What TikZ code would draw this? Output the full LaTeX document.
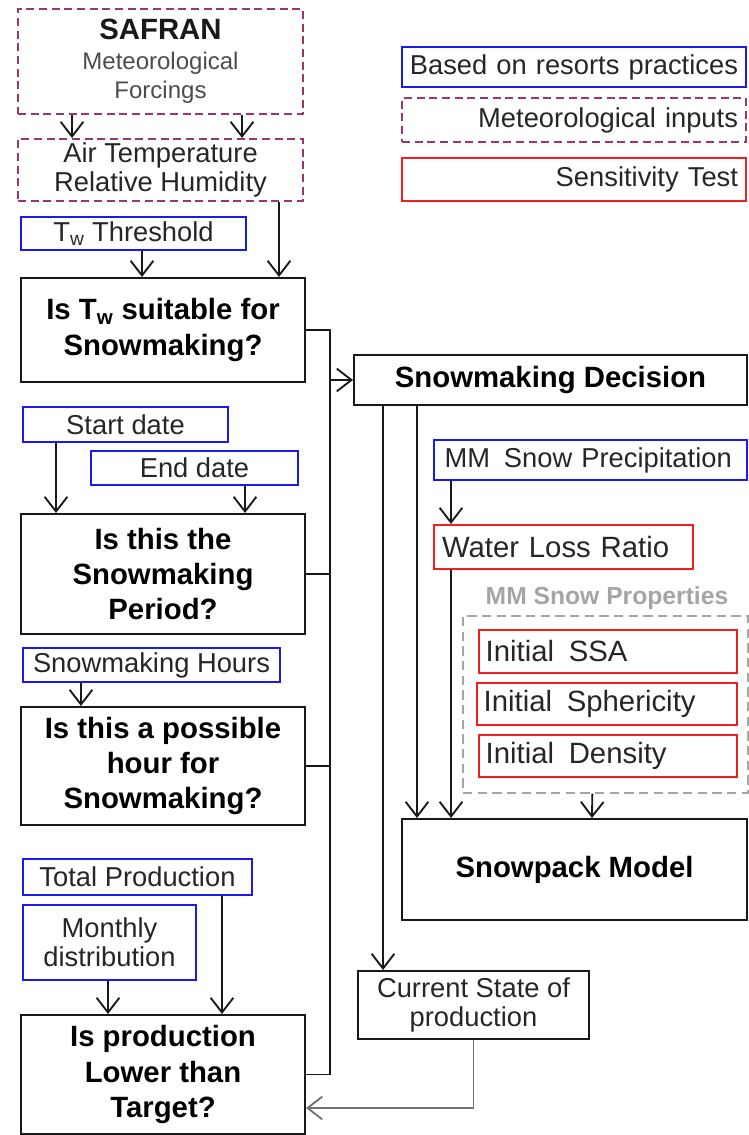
\documentclass[tikz,border=0pt]{standalone}
\usepackage{fontspec}
\setmainfont{Liberation Sans}
\usepackage{tikz}
\usetikzlibrary{arrows.meta, positioning, calc}
\definecolor{resortblue}{RGB}{25, 25, 245}
\definecolor{meteopurple}{RGB}{150, 55, 110}
\definecolor{sensred}{RGB}{240, 30, 30}
\definecolor{groupgray}{RGB}{165, 165, 165}
\newcommand{\txtnorm}{\fontsize{20.5}{23}\selectfont}
\newcommand{\txtbig}{\fontsize{22}{25}\selectfont}
\newcommand{\txtbold}{\fontsize{22}{26.5}\selectfont\bfseries}

\begin{document}
\begin{tikzpicture}[x=0.75pt, y=-0.75pt,
    basebox/.style={draw, rectangle, line width=1.5pt, inner sep=0pt, text=black!85, font=\txtnorm, align=center},
    practice/.style={basebox, draw=resortblue},
    meteo/.style={basebox, draw=meteopurple, dash pattern=on 6pt off 3.5pt},
    sensbox/.style={basebox, draw=sensred},
    question/.style={basebox, draw=black!90, text=black, font=\txtbold},
    conn/.style={line width=1.4pt, draw=black!90},
    arr/.style={conn, -{Straight Barb[length=11pt, width=17pt, line width=1.4pt]}}]
  \useasboundingbox (0,0) rectangle (749,1135);

  % Forcing data
  \node[meteo, minimum width=213.75pt, minimum height=78.75pt] (safran) at (160.5,61.5) {
    {\fontsize{22}{24}\selectfont\bfseries\color{black!90}SAFRAN}\\[-1pt]
    {\fontsize{18}{22}\selectfont\color{black!70}Meteorological}\\[-1pt]
    {\fontsize{18}{22}\selectfont\color{black!70}Forcings}
  };
  \node[meteo, minimum width=213.75pt, minimum height=46.5pt] (airtemp) at (160.5,170) {Air Temperature\\[-1pt]Relative Humidity};

  % Legend
  \node[practice, minimum height=30pt, text width=252pt, inner xsep=3pt, align=right] (legpractice) at (574,67) {Based on resorts practices\hspace*{3pt}};
  \node[meteo, minimum height=33pt, text width=246pt, inner xsep=6pt, align=right] (legmeteo) at (574,120) {Meteorological inputs};
  \node[sensbox, minimum height=32.25pt, text width=246pt, inner xsep=6pt, align=right] (legsens) at (574,179.5) {Sensitivity Test};

  % Decision chain on the left
  \node[practice, minimum width=168.75pt, minimum height=24.75pt] (twthr) at (133.5,233.5) {T\textsubscript{w} Threshold};
  \node[question, minimum width=213pt, minimum height=78pt] (qtw) at (163,330) {Is T\textsubscript{w} suitable for\\Snowmaking?};

  \node[practice, minimum width=153.75pt, minimum height=26.25pt] (startdate) at (125.5,424.5) {Start date};
  \node[practice, minimum width=155.25pt, minimum height=25.5pt] (enddate) at (194.5,468) {End date};
  \node[question, minimum width=213pt, minimum height=90pt] (qperiod) at (163,574) {Is this the\\Snowmaking\\Period?};

  \node[practice, minimum width=192.75pt, minimum height=25.5pt] (hours) at (151.5,665) {Snowmaking Hours};
  \node[question, minimum width=213pt, minimum height=88.5pt] (qhour) at (163,766) {Is this a possible\\hour for\\Snowmaking?};

  \node[practice, minimum width=171.75pt, minimum height=27pt] (total) at (137.5,877) {Total Production};
  \node[practice, minimum width=129.75pt, minimum height=56.25pt] (monthly) at (109.5,942.5) {Monthly\\[-1pt]distribution};
  \node[question, minimum width=213pt, minimum height=89.25pt] (qprod) at (163,1074.5) {Is production\\Lower than\\Target?};

  % Decision and snowpack model
  \node[question, minimum width=294.75pt, minimum height=37.5pt] (decision) at (550.5,380) {Snowmaking Decision};
  \node[practice, minimum height=30pt, text width=218.75pt, inner xsep=8pt, align=left] (precip) at (590.5,460) {MM\hspace{0.5em}Snow Precipitation};
  \node[sensbox, minimum height=33pt, text width=182.25pt, inner xsep=6pt, align=left, font=\txtbig] (waterloss) at (563.5,547) {Water Loss Ratio};

  \node[font=\fontsize{18.5}{20}\selectfont\bfseries, text=groupgray] (propslabel) at (607,598) {MM Snow Properties};
  \node[draw=groupgray, line width=1pt, dash pattern=on 7pt off 4pt, minimum width=213.75pt, minimum height=132.75pt, inner sep=0pt] (props) at (605.5,704.5) {};
  \node[sensbox, minimum height=32.25pt, text width=183.5pt, inner xsep=5pt, align=left, font=\txtbig] (ssa) at (608,651.5) {Initial\hspace{0.5em}SSA};
  \node[sensbox, minimum height=31.5pt, text width=185pt, inner xsep=5pt, align=left, font=\txtbig] (spher) at (607,704) {Initial\hspace{0.5em}Sphericity};
  \node[sensbox, minimum height=31.5pt, text width=183.5pt, inner xsep=5pt, align=left, font=\txtbig] (dens) at (608,756) {Initial\hspace{0.5em}Density};

  \node[question, minimum width=258.75pt, minimum height=75.75pt] (snowpack) at (574.5,869.5) {Snowpack Model};
  \node[basebox, draw=black!90, minimum width=173.25pt, minimum height=51pt] (current) at (473.5,1005) {Current State of\\[-1pt]production};

  % Inputs into the tests
  \draw[arr] ($(safran.south west)+(55,0)$) -- ($(airtemp.north west)+(55,0)$);
  \draw[arr] ($(safran.south west)+(225,0)$) -- ($(airtemp.north west)+(225,0)$);
  \draw[arr] ($(twthr.south west)+(122,0)$) -- ($(qtw.north west)+(122,0)$);
  \draw[arr] ($(airtemp.south west)+(262,0)$) -- ($(qtw.north west)+(259,0)$);
  \draw[arr] ($(startdate.south west)+(34,0)$) -- ($(qperiod.north west)+(36,0)$);
  \draw[arr] ($(enddate.south west)+(155,0)$) -- ($(qperiod.north west)+(225,0)$);
  \draw[arr] ($(hours.south west)+(59,0)$) -- ($(qhour.north west)+(61,0)$);
  \draw[arr] ($(monthly.south west)+(86,0)$) -- ($(qprod.north west)+(88,0)$);
  \draw[arr] ($(total.south west)+(200,0)$) -- ($(qprod.north west)+(202,0)$);

  % Collecting bus to the decision
  \coordinate (bus) at (330,0);
  \draw[conn] (qtw.east) -- (qtw.east -| bus) -- (qprod.east -| bus) -- (qprod.east);
  \draw[conn] (qperiod.east) -- (qperiod.east -| bus);
  \draw[conn] (qhour.east) -- (qhour.east -| bus);
  \draw[arr] (decision.west -| bus) -- (decision.west);

  % Right branch
  \draw[arr] ($(decision.south west)+(30,0)$) -- ($(current.north west)+(26,0)$);
  \draw[arr] ($(decision.south west)+(64,0)$) -- ($(snowpack.north west)+(16,0)$);
  \draw[arr] ($(precip.south west)+(18,0)$) -- ($(waterloss.north west)+(18,0)$);
  \draw[arr] ($(waterloss.south west)+(18,0)$) -- ($(snowpack.north west)+(50,0)$);
  \draw[arr] ($(props.south west)+(130,0)$) -- ($(snowpack.north west)+(191,0)$);
  \draw[arr, draw=black!55] (current.south) |- ($(qprod.east)+(0,33.5)$);
\end{tikzpicture}
\end{document}
